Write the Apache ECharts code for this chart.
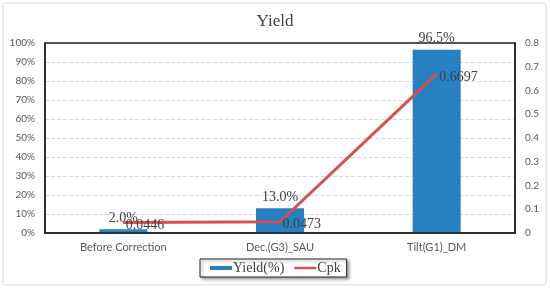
<!DOCTYPE html>
<html>
<head>
<meta charset="utf-8">
<script src="https://cdn.jsdelivr.net/npm/echarts@6/dist/echarts.min.js"></script>
<style>
  html, body { margin: 0; padding: 0; background: #fff; }
  #main { width: 550px; height: 289px; }
</style>
</head>
<body>
<div id="main"></div>
<script>
// data
var categories = ['Before Correction', 'Dec.(G3)_SAU', 'Tilt(G1)_DM'];
var yieldPct = [2.0, 13.0, 96.5];
var cpk = [0.0446, 0.0473, 0.6697];

var serif = '"Liberation Serif", "Times New Roman", serif';
var sans = 'Lato, "Open Sans", sans-serif';

var chart = echarts.init(document.getElementById('main'));

var option = {
    backgroundColor: '#fff',
    animation: false,
    graphic: [{
        type: 'rect',
        shape: { x: 3, y: 3, width: 543, height: 282, r: 3 },
        style: { fill: 'none', stroke: '#d9d9d9', lineWidth: 1 },
        silent: true
    }],
    title: {
        text: 'Yield',
        left: 'center',
        top: 8,
        textStyle: { fontFamily: serif, fontSize: 17, fontWeight: 'normal', color: '#404040' }
    },
    legend: {
        data: [
            { name: 'Yield(%)', icon: 'rect' },
            { name: 'Cpk', icon: 'path://M0,1.5 L22,1.5 L22,4 L0,4 Z' }
        ],
        left: 200,
        top: 259,
        padding: [2, 6, 2, 10],
        itemWidth: 22,
        itemHeight: 4,
        itemGap: 10,
        borderColor: '#222',
        borderWidth: 1,
        backgroundColor: '#fff',
        shadowColor: 'rgba(0,0,0,0.35)',
        shadowBlur: 3,
        shadowOffsetX: 2,
        shadowOffsetY: 2,
        textStyle: { fontFamily: serif, fontSize: 14, color: '#404040', padding: [0, 0, 0, -4] }
    },
    grid: {
        left: 45, right: 35, top: 43, bottom: 56, z: 5,
        show: true, borderColor: '#222', borderWidth: 1.5
    },
    xAxis: {
        type: 'category',
        data: categories,
        axisLine: { lineStyle: { color: '#222', width: 1.5 } },
        axisTick: { inside: true, length: 4, lineStyle: { color: '#222' } },
        axisLabel: { fontFamily: sans, fontSize: 11, color: '#595959', margin: 9 }
    },
    yAxis: [{
        type: 'value',
        min: 0, max: 100, interval: 10,
        axisLine: { show: true, lineStyle: { color: '#222', width: 1.5 } },
        axisTick: { show: false },
        axisLabel: { formatter: '{value}%', fontFamily: sans, fontSize: 10, color: '#595959', margin: 10 },
        splitLine: { lineStyle: { color: '#d9d9d9', type: 'dashed' } }
    }, {
        type: 'value',
        min: 0, max: 0.8, interval: 0.1,
        axisLine: { show: true, lineStyle: { color: '#222', width: 1.5 } },
        axisTick: { show: false },
        axisLabel: { fontFamily: sans, fontSize: 10, color: '#595959', margin: 10 },
        splitLine: { show: false }
    }],
    series: [{
        name: 'Yield(%)',
        type: 'bar',
        data: yieldPct,
        barWidth: 48,
        itemStyle: { color: '#2680c2' },
        label: {
            show: true, position: 'top', distance: 4,
            formatter: function (p) { return p.value.toFixed(1) + '%'; },
            fontFamily: serif, fontSize: 14, color: '#404040'
        }
    }, {
        name: 'Cpk',
        type: 'line',
        yAxisIndex: 1,
        data: cpk,
        symbol: 'circle',
        symbolSize: 1,
        showSymbol: true,
        lineStyle: { color: '#d94f4f', width: 3 },
        itemStyle: { color: '#d94f4f' },
        label: {
            show: true, position: 'right', distance: 2, offset: [0, 3],
            fontFamily: serif, fontSize: 14, color: '#404040'
        }
    }]
};
chart.setOption(option);
</script>
</body>
</html>
